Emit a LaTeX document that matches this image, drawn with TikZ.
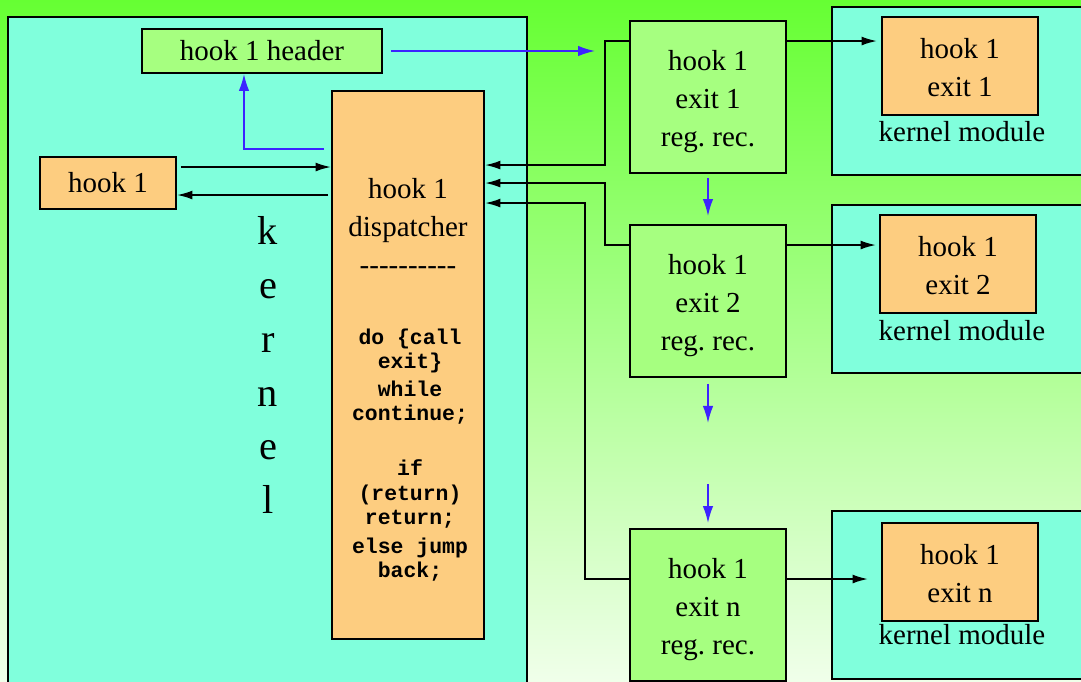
\documentclass[tikz,border=0pt]{standalone}
\usepackage{xcolor}
\usepackage{fontspec}
\setmainfont{Liberation Serif}
\setmonofont{Liberation Mono}
\usetikzlibrary{shapes}
\usetikzlibrary{arrows.meta}
\tikzset{
  font={\fontsize{16.5pt}{21.6pt}\selectfont}}

\definecolor{kernbg}{RGB}{128,255,220}
\definecolor{hookfill}{RGB}{253,205,128}
\definecolor{recfill}{RGB}{166,255,128}
\definecolor{callblue}{RGB}{60,35,255}
\definecolor{bgtop}{RGB}{102,255,51}
\definecolor{bgbottom}{RGB}{240,255,234}

\begin{document}
\begin{tikzpicture}[x=0.02cm, y=-0.02cm]

        \tikzset{edge/.style = {-{Latex[length=3.1mm,width=1.8mm]}, line width=1.1pt},
                 calledge/.style = {-{Latex[length=3.4mm,width=2.1mm]}, line width=0.9pt, draw=callblue},
                 box/.style = {draw=black, line width=1.1pt, inner sep=0pt, align=center},
                 area/.style = {box, fill=kernbg},
                 hookbox/.style = {box, fill=hookfill},
                 recbox/.style = {box, fill=recfill, minimum width=3.12cm, minimum height=3.04cm, text height=60pt},
                 exitbox/.style = {hookbox, minimum width=3.12cm, minimum height=1.96cm, text height=35pt},
                 modbox/.style = {area, minimum width=5.3cm, minimum height=3.36cm}}

        % background
        \shade[top color=bgtop, bottom color=bgbottom] (0,0) rectangle (1081,681);
        \useasboundingbox (0,0) rectangle (1081,681);

        % kernel side
        \node[area, minimum width=10.38cm, minimum height=13.6cm] (kernel) at (267.5,357) {};
        \node[align=center, font={\fontsize{23pt}{30.7pt}\selectfont}] (kernlbl) at (268,365)
            {k\\e\\r\\n\\e\\l};
        \node[box, fill=recfill, minimum width=4.8cm, minimum height=0.88cm] (header) at (262,51) {hook 1 header};
        \node[hookbox, minimum width=2.72cm, minimum height=1.04cm] (hook1) at (108,183) {hook 1};
        \node[hookbox, minimum width=3.04cm, minimum height=10.96cm] (disp) at (408,365) {};
        \node[align=center] (disptxt) at (408,226)
            {hook 1\\dispatcher\\-{}-{}-{}-{}-{}-{}-{}-{}-{}-};
        \node[align=center, font={\fontsize{12.2pt}{13.7pt}\selectfont\ttfamily\bfseries}] (dispcode) at (410,455)
            {do \{call\\exit\}\\[2.3pt]while\\continue;\\[17.6pt]if\\[0.6pt](return)\\return;\\[2.8pt]else jump\\back;};

        % exit records
        \node[recbox] (rec1) at (708,97) {hook 1\\exit 1\\reg.\ rec.};
        \node[recbox] (rec2) at (708,301) {hook 1\\exit 2\\reg.\ rec.};
        \node[recbox] (recn) at (708,605) {hook 1\\exit n\\reg.\ rec.};

        % kernel modules
        \node[modbox] (km1) at (964.5,91) {};
        \node[modbox] (km2) at (964.5,289) {};
        \node[modbox] (km3) at (964.5,595) {};
        \node[exitbox] (ex1) at (960,66) {hook 1\\exit 1};
        \node[exitbox] (ex2) at (958,264) {hook 1\\exit 2};
        \node[exitbox] (exn) at (960,572) {hook 1\\exit n};
        \node (km1lbl) at (962,132) {kernel module};
        \node (km2lbl) at (962,331) {kernel module};
        \node (km3lbl) at (962,635) {kernel module};

        % edges
        \draw[edge, shorten <=0.08cm] ([yshift=0.32cm]hook1.east) -- ([yshift=0.32cm]hook1.east -| disp.west);
        \draw[edge, shorten <=0.06cm] ([yshift=-0.24cm]hook1.east -| disp.west) -- ([yshift=-0.24cm]hook1.east);
        \draw[edge] ([yshift=1.12cm]rec1.west) -- ++(-24,0) |- ([yshift=4cm]disp.east);
        \draw[edge] ([yshift=1.12cm]rec2.west) -- ++(-24,0) |- ([yshift=3.64cm]disp.east);
        \draw[edge] ([yshift=0.52cm]recn.west) -- ++(-44,0) |- ([yshift=3.24cm]disp.east);
        \draw[edge, shorten >=0.08cm] ([yshift=1.12cm]rec1.east) -- ([yshift=1.12cm]rec1.east -| ex1.west);
        \draw[edge, shorten >=0.06cm] ([yshift=1.12cm]rec2.east) -- ([yshift=1.12cm]rec2.east -| ex2.west);
        \draw[edge, shorten >=0.26cm] ([yshift=0.52cm]recn.east) -- ([yshift=0.52cm]recn.east -| exn.west);

        % calls
        \draw[calledge] ([xshift=-0.14cm,yshift=4.32cm]disp.west) -| ([xshift=-0.36cm]header.south);
        \draw[calledge, shorten <=0.16cm, shorten >=0.68cm] (header.east) -- (header.east -| rec1.west);
        \draw[calledge, shorten <=0.08cm, shorten >=0.16cm] (rec1.south) -- (rec2.north);
        \draw[calledge] ([yshift=-0.12cm]rec2.south) -- ++(0,39);
        \draw[calledge, shorten >=0.1cm] ([yshift=0.88cm]recn.north) -- (recn.north);

\end{tikzpicture}
\end{document}
